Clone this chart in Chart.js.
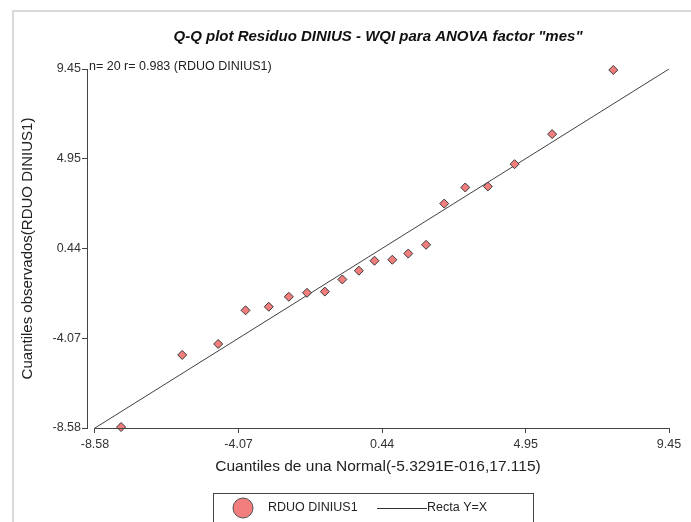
<!DOCTYPE html>
<html>
<head>
<meta charset="utf-8">
<script src="https://cdn.jsdelivr.net/npm/chart.js@4"></script>
<style>
  html, body { margin: 0; padding: 0; background: #fff; }
  canvas { display: block; }
</style>
</head>
<body>
<canvas id="qqplot" width="691" height="522"></canvas>
<script>
// datos
const cuantilesNormal = [-7.76, -5.84, -4.71, -3.85, -3.12, -2.49, -1.92, -1.36, -0.81, -0.29,
  0.20, 0.76, 1.26, 1.82, 2.39, 3.05, 3.76, 4.60, 5.78, 7.70];
const residuos = [-8.53, -4.91, -4.36, -2.67, -2.49, -1.99, -1.79, -1.73, -1.12, -0.68,
  -0.18, -0.13, 0.18, 0.62, 2.69, 3.50, 3.55, 4.67, 6.18, 9.40];
const marcasEje = [-8.58, -4.07, 0.44, 4.95, 9.45];
const recta = [-8.58, 9.45];

const titulo = 'Q-Q plot Residuo DINIUS - WQI para ANOVA factor "mes"';
const nombreSerie = "RDUO DINIUS1";
const nombreRecta = "Recta Y=X";
const anotacion = "n= 20 r= 0.983 (RDUO DINIUS1)";
const tituloX = "Cuantiles de una Normal(-5.3291E-016,17.115)";
const tituloY = "Cuantiles observados(RDUO DINIUS1)";

Chart.defaults.font.family = "'Liberation Sans', Arial, sans-serif";

const puntos = cuantilesNormal.map((x, i) => ({ x: x, y: residuos[i] }));
const linea = recta.map((v) => ({ x: v, y: v }));

const decorado = {
  id: "decorado",
  beforeDraw(chart) {
    const ctx = chart.ctx;
    ctx.save();
    ctx.fillStyle = "#fff";
    ctx.fillRect(0, 0, chart.width, chart.height);
    ctx.strokeStyle = "#dadada";
    ctx.lineWidth = 2;
    ctx.beginPath();
    ctx.moveTo(13, chart.height);
    ctx.lineTo(13, 11);
    ctx.lineTo(chart.width, 11);
    ctx.stroke();
    ctx.restore();
  },
  afterDraw(chart) {
    const ctx = chart.ctx;
    const area = chart.chartArea;
    const sx = chart.scales.x;
    ctx.save();
    // eje x
    ctx.strokeStyle = "#444";
    ctx.lineWidth = 1;
    ctx.beginPath();
    ctx.moveTo(Math.round(sx.getPixelForValue(marcasEje[0])), area.bottom + 0.5);
    ctx.lineTo(area.right + 0.5, area.bottom + 0.5);
    ctx.stroke();

    // anotacion
    ctx.fillStyle = "#222";
    ctx.font = "12.5px 'Liberation Sans', Arial, sans-serif";
    ctx.textBaseline = "middle";
    ctx.textAlign = "left";
    ctx.fillText(anotacion, area.left + 2, 67);

    // leyenda
    const lx = 213, ly = 493;
    ctx.strokeStyle = "#444";
    ctx.strokeRect(lx + 0.5, ly + 0.5, 320, 40);
    const cy = ly + 15;
    ctx.beginPath();
    ctx.arc(lx + 30, cy, 10, 0, Math.PI * 2);
    ctx.fillStyle = "#f27d7d";
    ctx.fill();
    ctx.strokeStyle = "#555";
    ctx.stroke();
    ctx.fillStyle = "#222";
    ctx.fillText(chart.data.datasets[0].label, lx + 55, cy);
    ctx.strokeStyle = "#333";
    ctx.beginPath();
    ctx.moveTo(lx + 164, cy + 0.5);
    ctx.lineTo(lx + 214, cy + 0.5);
    ctx.stroke();
    ctx.fillText(chart.data.datasets[1].label, lx + 214, cy);
    ctx.restore();
  }
};

new Chart(document.getElementById("qqplot"), {
  type: "scatter",
  data: {
    datasets: [
      {
        label: nombreSerie,
        data: puntos,
        pointStyle: "rectRot",
        pointRadius: 4.5,
        backgroundColor: "#f27d7d",
        borderColor: "#3a3a3a",
        borderWidth: 1,
        clip: false,
        order: 1
      },
      {
        label: nombreRecta,
        type: "line",
        data: linea,
        borderColor: "#404040",
        borderWidth: 1,
        pointRadius: 0,
        fill: false,
        order: 2
      }
    ]
  },
  options: {
    responsive: false,
    animation: false,
    layout: { padding: { left: 0, right: 22, top: 0, bottom: 0 } },
    plugins: {
      legend: { display: false },
      tooltip: { enabled: false },
      title: {
        display: true,
        text: titulo,
        fullSize: false,
        color: "#111",
        font: { size: 15, weight: "bold", style: "italic" },
        padding: { top: 28, bottom: 23 }
      }
    },
    scales: {
      x: {
        type: "linear",
        min: -8.83,
        max: 9.45,
        afterBuildTicks: (s) => { s.ticks = marcasEje.map((v) => ({ value: v })); },
        afterFit: (s) => { s.height = 94; },
        ticks: {
          callback: (v) => v.toFixed(2),
          color: "#333",
          font: { size: 12.5 },
          padding: 4,
          maxRotation: 0,
          autoSkip: false
        },
        grid: { drawOnChartArea: false, drawTicks: true, tickLength: 5, color: "#444" },
        border: { display: false },
        title: {
          display: true,
          text: tituloX,
          color: "#222",
          font: { size: 15.5 },
          padding: { top: 4, bottom: 46 }
        }
      },
      y: {
        type: "linear",
        min: -8.58,
        max: 9.45,
        afterBuildTicks: (s) => { s.ticks = marcasEje.map((v) => ({ value: v })); },
        afterFit: (s) => { s.width = 87; },
        ticks: {
          callback: (v) => v.toFixed(2),
          color: "#333",
          font: { size: 12.5 },
          padding: 1,
          autoSkip: false
        },
        grid: { drawOnChartArea: false, drawTicks: true, tickLength: 5, color: "#444" },
        border: { display: true, color: "#444", width: 1 },
        title: {
          display: true,
          text: tituloY,
          color: "#222",
          font: { size: 15 },
          padding: { top: 19, bottom: 0 }
        }
      }
    }
  },
  plugins: [decorado]
});
</script>
</body>
</html>
